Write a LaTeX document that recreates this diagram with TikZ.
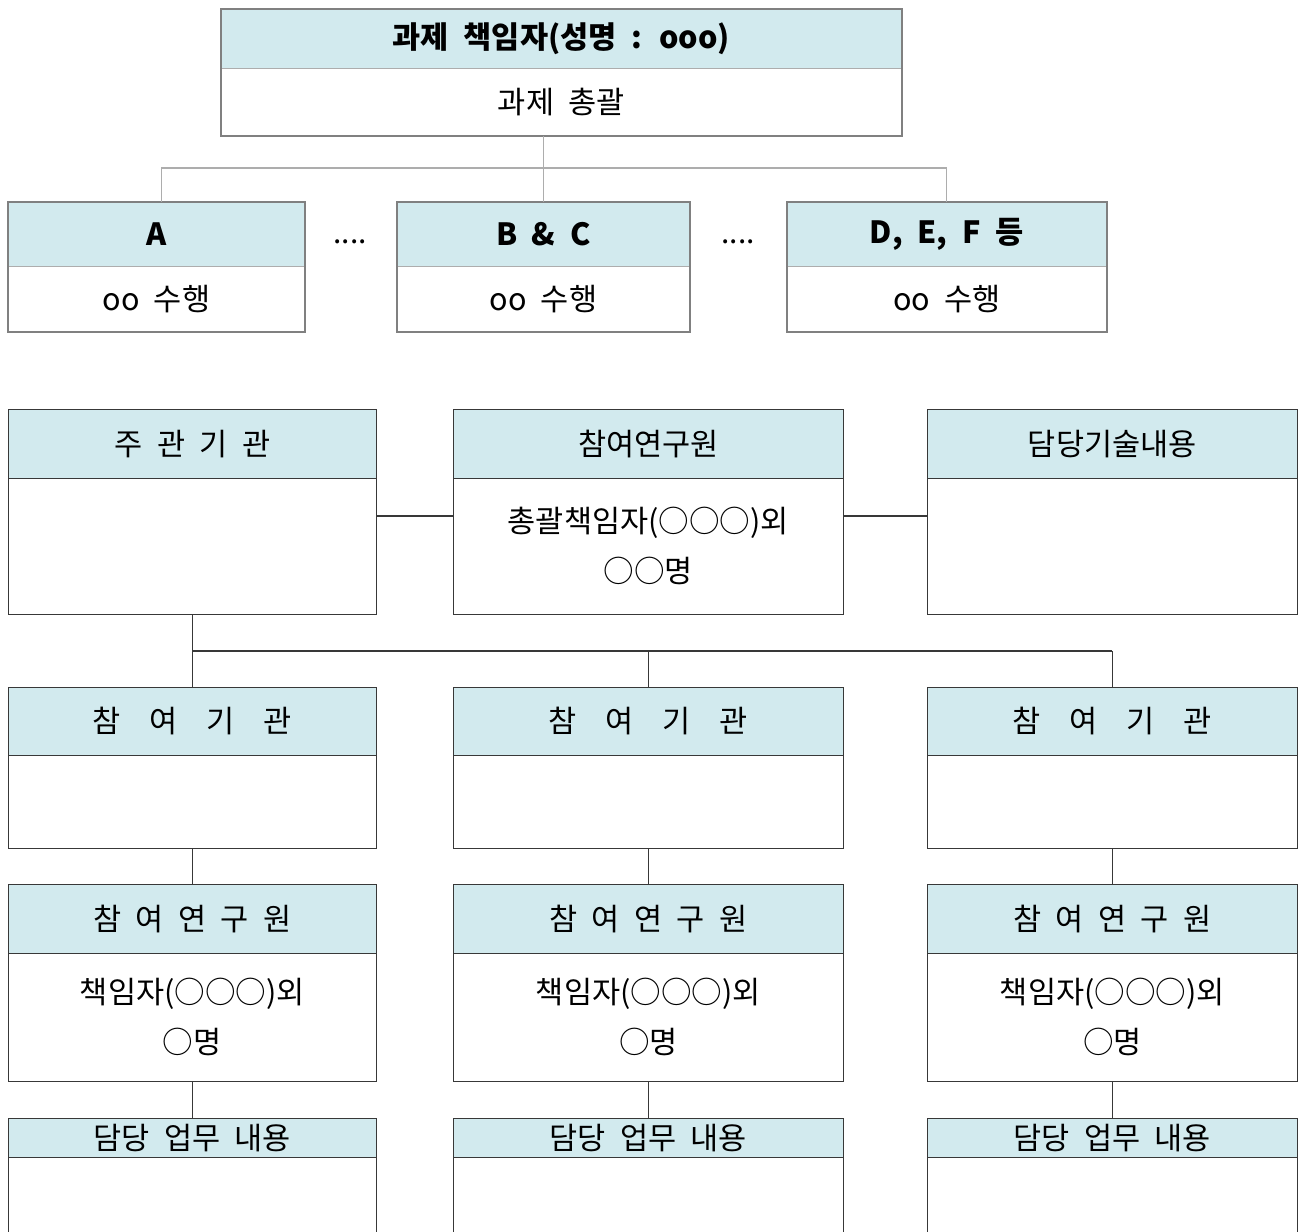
\documentclass[tikz,border=0pt]{standalone}
\usepackage{fontspec}
\setmainfont{Noto Sans CJK KR}[WordSpace=2.1]
\usepackage{tikz}
\usetikzlibrary{calc, positioning}
\definecolor{headBlue}{RGB}{210,234,238}
\definecolor{frameGray}{gray}{0.5}
\definecolor{thinGray}{gray}{0.68}
\definecolor{boxBlack}{gray}{0.22}

\begin{document}
\begin{tikzpicture}[scale=1.0,
    hd/.style={draw=boxBlack, fill=headBlue, anchor=north west, inner sep=0pt, font=\fontsize{17.4}{20}\selectfont},
    bd/.style={draw=boxBlack, fill=white, anchor=north west, inner sep=0pt, align=center, font=\fontsize{17.4}{28.5}\selectfont},
    tophd/.style={hd, draw=thinGray, font=\fontsize{17.4}{20}\selectfont\bfseries},
    topbd/.style={bd, draw=thinGray},
    topframe/.style={draw=frameGray, line width=1.1pt},
    conn/.style={draw=thinGray, line width=0.6pt},
    link/.style={draw=boxBlack, line width=0.6pt}]
    \clip (0,0) rectangle (26.04,-24.62);

    % 과제 책임자
    \node[tophd, minimum width=13.6cm, minimum height=1.18cm] (th) at (4.42,-0.18) {과제 책임자(성명 : ooo)};
    \node[topbd, minimum width=13.6cm, minimum height=1.34cm] (tb) at (4.42,-1.36) {과제 총괄};
    \draw[topframe] (th.north west) rectangle (tb.south east);

    % 수행 기관
    \node[tophd, minimum width=5.92cm, minimum height=1.28cm] (ah) at (0.16,-4.04) {A};
    \node[topbd, minimum width=5.92cm, minimum height=1.30cm] (ab) at (0.16,-5.32) {oo 수행};
    \node[tophd, minimum width=5.84cm, minimum height=1.28cm] (bh) at (7.94,-4.04) {B \& C};
    \node[topbd, minimum width=5.84cm, minimum height=1.30cm] (bb) at (7.94,-5.32) {oo 수행};
    \node[tophd, minimum width=6.38cm, minimum height=1.28cm] (dh) at (15.74,-4.04) {D, E, F 등};
    \node[topbd, minimum width=6.38cm, minimum height=1.30cm] (db) at (15.74,-5.32) {oo 수행};
    \foreach \n in {a,b,d}
        \draw[topframe] (\n h.north west) rectangle (\n b.south east);
    \node[font=\fontsize{17}{20}\selectfont] (dots1) at (7.0,-4.84) {....};
    \node[font=\fontsize{17}{20}\selectfont] (dots2) at (14.76,-4.84) {....};

    \coordinate (tj) at (10.9,-3.36);
    \draw[conn] ([xshift=0.1cm]ah.north) |- (tj) -| (dh.north);
    \draw[conn] (tb.south -| bh.north) -- (bh.north);

    % 주관기관 / 참여연구원 / 담당기술내용
    \node[hd, minimum width=7.36cm, minimum height=1.38cm] (mh) at (0.16,-8.18) {주 관 기 관};
    \node[bd, minimum width=7.36cm, minimum height=2.72cm] (mb) at (0.16,-9.56) {};
    \node[hd, minimum width=7.8cm, minimum height=1.38cm] (rh) at (9.06,-8.18) {참여연구원};
    \node[bd, minimum width=7.8cm, minimum height=2.72cm] (rb) at (9.06,-9.56) {총괄책임자(○○○)외\\○○명};
    \node[hd, minimum width=7.4cm, minimum height=1.38cm] (kh) at (18.54,-8.18) {담당기술내용};
    \node[bd, minimum width=7.4cm, minimum height=2.72cm] (kb) at (18.54,-9.56) {};
    \coordinate (mid) at (13,-10.32);
    \draw[link] (mb.east |- mid) -- (rb.west |- mid);
    \draw[link] (rb.east |- mid) -- (kb.west |- mid);

    % 참여기관
    \coordinate (bj) at (13,-13.02);
    \foreach \i/\x/\w in {1/0.16/7.36, 2/9.06/7.8, 3/18.54/7.4} {
        \node[hd, minimum width=\w cm, minimum height=1.36cm] (ph\i) at (\x,-13.74) {참~~여~~기~~관};
        \node[bd, minimum width=\w cm, minimum height=1.86cm] (pb\i) at (\x,-15.10) {};
        \node[hd, minimum width=\w cm, minimum height=1.38cm] (qh\i) at (\x,-17.68) {참 여 연 구 원};
        \node[bd, minimum width=\w cm, minimum height=2.56cm] (qb\i) at (\x,-19.06) {책임자(○○○)외\\○명};
        \node[hd, minimum width=\w cm, minimum height=0.78cm] (wh\i) at (\x,-22.36) {담당 업무 내용};
        \node[bd, minimum width=\w cm, minimum height=2.0cm] (wb\i) at (\x,-23.14) {};
        \draw[link] (ph\i.north |- bj) -- (ph\i.north);
        \draw[link] (pb\i.south) -- (qh\i.north);
        \draw[link] (qb\i.south) -- (wh\i.north);
    }
    \draw[link] (mb.south) -- (mb.south |- bj) -- (ph3.north |- bj);
\end{tikzpicture}
\end{document}
